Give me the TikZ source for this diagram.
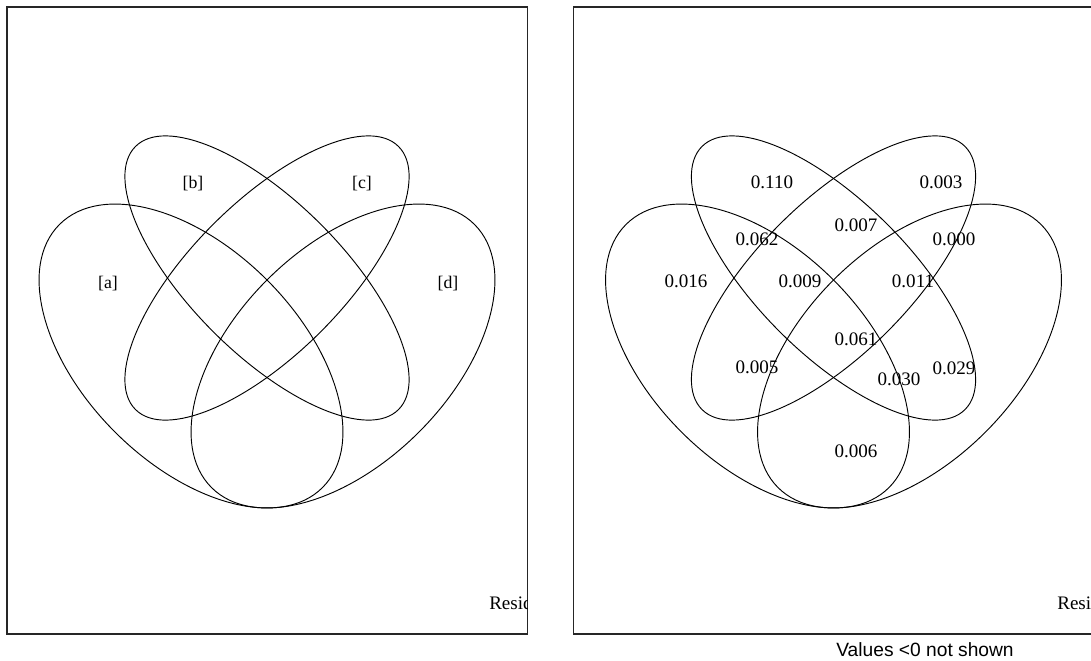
\documentclass[tikz,border=0pt]{standalone}
\usepackage{fontspec}
\setmainfont{Liberation Serif}
\newfontfamily\notefont{Liberation Sans}

\begin{document}
\begin{tikzpicture}[
    x=0.75pt, y=-0.75pt,
    panel/.style={draw=black!85, line width=0.8pt},
    venn/.style={draw=black, line width=0.7pt},
    tag/.style={font=\fontsize{13.3}{16}\selectfont, anchor=base, inner sep=0pt},
    val/.style={font=\fontsize{14.3}{17}\selectfont, anchor=base, inner sep=0pt},
    note/.style={font=\notefont\fontsize{14.4}{17}\selectfont, anchor=base, inner sep=0pt},
  ]
  \useasboundingbox (0,0) rectangle (1091,660);

  % left panel: the four fractions
  \draw[panel] (7,7) rectangle (527.5,634);
  \draw[venn, rotate around={-45:(191,356)}] (191,356) ellipse [x radius=186, y radius=107.5];
  \draw[venn, rotate around={-45:(267,278)}] (267,278) ellipse [x radius=186, y radius=76];
  \draw[venn, rotate around={45:(267,278)}] (267,278) ellipse [x radius=186, y radius=76];
  \draw[venn, rotate around={45:(343,356)}] (343,356) ellipse [x radius=186, y radius=107.5];

  \node[tag] (tagA) at (108,288) {[a]};
  \node[tag] (tagB) at (193,188) {[b]};
  \node[tag] (tagC) at (362,188) {[c]};
  \node[tag] (tagD) at (448,288) {[d]};
  \begin{scope}
    \clip (7,7) rectangle (527.5,634);
    \node[val, anchor=base west] (residL) at (489,609) {Resid};
  \end{scope}

  % right panel: adjusted R2 of each part
  \draw[panel] (573.5,7) rectangle (1094,634);
  \draw[venn, rotate around={-45:(757.5,356)}] (757.5,356) ellipse [x radius=186, y radius=107.5];
  \draw[venn, rotate around={-45:(833.5,278)}] (833.5,278) ellipse [x radius=186, y radius=76];
  \draw[venn, rotate around={45:(833.5,278)}] (833.5,278) ellipse [x radius=186, y radius=76];
  \draw[venn, rotate around={45:(909.5,356)}] (909.5,356) ellipse [x radius=186, y radius=107.5];

  \node[val] (pB) at (772,188) {0.110};
  \node[val] (pC) at (941,188) {0.003};
  \node[val] (pBC) at (856,231) {0.007};
  \node[val] (pAB) at (757,245) {0.062};
  \node[val] (pCD) at (954,245) {0.000};
  \node[val] (pA) at (686,287) {0.016};
  \node[val] (pABC) at (800,287) {0.009};
  \node[val] (pBCD) at (913,287) {0.011};
  \node[val] (pABCD) at (856,345) {0.061};
  \node[val] (pAC) at (757,373) {0.005};
  \node[val] (pBD) at (954,374) {0.029};
  \node[val] (pABD) at (899,385) {0.030};
  \node[val] (pAD) at (856,457) {0.006};
  \begin{scope}
    \clip (573.5,7) rectangle (1091,634);
    \node[val, anchor=base west] (residR) at (1057,609) {Resid};
  \end{scope}

  \node[note] (note) at (925,656) {Values <0 not shown};
\end{tikzpicture}
\end{document}
